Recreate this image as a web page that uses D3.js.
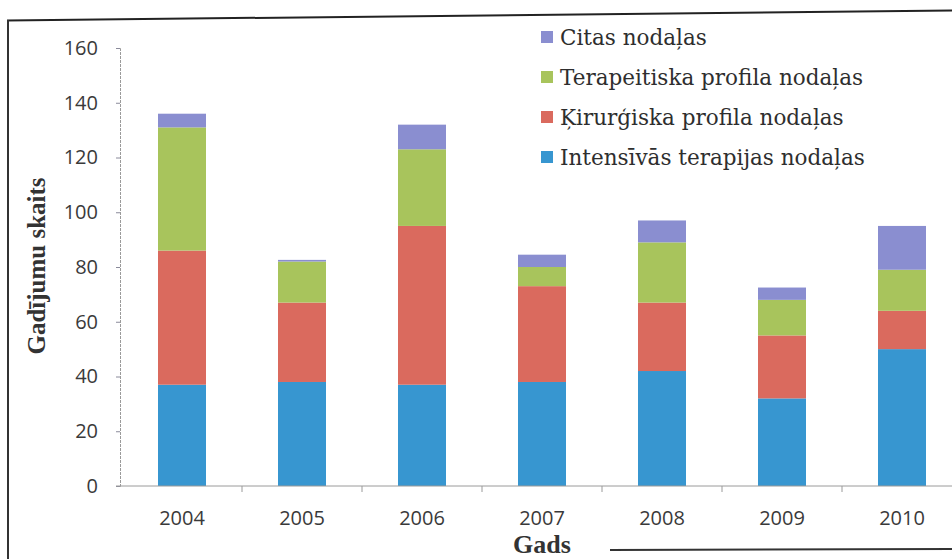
<!DOCTYPE html>
<html>
<head>
<meta charset="utf-8">
<script src="https://cdn.jsdelivr.net/npm/d3@7"></script>
<style>
  html, body { margin: 0; padding: 0; background: #fff; }
  svg { display: block; }
</style>
</head>
<body>
<svg id="chart" width="952" height="559"></svg>
<script>
// ---- data ----
const years = ["2004", "2005", "2006", "2007", "2008", "2009", "2010"];
const intensive = [37, 38, 37, 38, 42, 32, 50];   // Intensīvās terapijas nodaļas
const surgical  = [49, 29, 58, 35, 25, 23, 14];   // Ķirurģiska profila nodaļas
const therapy   = [45, 15, 28, 7, 22, 13, 15];    // Terapeitiska profila nodaļas
const other     = [5, 0.6, 9, 4.5, 8, 4.5, 16];   // Citas nodaļas
const seriesNames = ["Intensīvās terapijas nodaļas", "Ķirurģiska profila nodaļas",
                     "Terapeitiska profila nodaļas", "Citas nodaļas"];
const yTicks = [0, 20, 40, 60, 80, 100, 120, 140, 160];
const colors = ["#3796d0", "#da6a5e", "#a8c45c", "#8a8ed0"];

const svg = d3.select("#chart");

// scanned-page frame lines
svg.append("line").attr("x1", 7).attr("y1", 20.5).attr("x2", 952).attr("y2", 10.5)
  .attr("stroke", "#222").attr("stroke-width", 2);
svg.append("line").attr("x1", 8).attr("y1", 20).attr("x2", 8).attr("y2", 559)
  .attr("stroke", "#333").attr("stroke-width", 2);
svg.append("line").attr("x1", 610).attr("y1", 550).attr("x2", 952).attr("y2", 549)
  .attr("stroke", "#333").attr("stroke-width", 2);

const keys = ["intensive", "surgical", "therapy", "other"];
const table = years.map((y, i) => ({
  year: y, intensive: intensive[i], surgical: surgical[i], therapy: therapy[i], other: other[i]
}));
const stacked = d3.stack().keys(keys)(table);

const x = d3.scaleBand().domain(years).range([122, 962]).paddingInner(0.6).paddingOuter(0.3);
const y = d3.scaleLinear().domain([0, 160]).range([486, 48]);

// bars
svg.append("g").selectAll("g").data(stacked).join("g")
  .attr("fill", (d, i) => colors[i])
  .selectAll("rect").data(d => d).join("rect")
  .attr("x", d => x(d.data.year))
  .attr("width", x.bandwidth())
  .attr("y", d => y(d[1]))
  .attr("height", d => y(d[0]) - y(d[1]));

// y axis
const yAxis = svg.append("g").attr("transform", "translate(120,0)")
  .call(d3.axisLeft(y).tickValues(yTicks).tickSize(4).tickPadding(18));
yAxis.select(".domain").attr("stroke", "#9a9a9a").attr("stroke-dasharray", "3,1");
yAxis.selectAll(".tick line").attr("stroke", "#8a8a9a");
yAxis.selectAll("text").attr("font-family", "'Open Sans', sans-serif")
  .attr("font-size", 20).attr("fill", "#3a3a3a");

// x axis
const xAxis = svg.append("g").attr("transform", "translate(0,486)")
  .call(d3.axisBottom(x).tickSize(0).tickPadding(25));
xAxis.select(".domain").remove();
xAxis.selectAll("text").attr("font-family", "'Open Sans', sans-serif")
  .attr("font-size", 20).attr("fill", "#3a3a3a");
svg.append("line").attr("x1", 116).attr("x2", 952).attr("y1", 486).attr("y2", 486)
  .attr("stroke", "#9a9a9a");
// category separators
svg.append("g").selectAll("line").data(years.slice(0, -1)).join("line")
  .attr("x1", d => x(d) + x.bandwidth() / 2 + x.step() / 2)
  .attr("x2", d => x(d) + x.bandwidth() / 2 + x.step() / 2)
  .attr("y1", 486).attr("y2", 492).attr("stroke", "#9a9a9a");

// axis titles
svg.append("text").attr("transform", "translate(45,266) rotate(-90)")
  .attr("text-anchor", "middle").attr("font-family", "'Liberation Serif', serif")
  .attr("font-weight", "bold").attr("font-size", 25).attr("fill", "#333")
  .text("Gadījumu skaits");
svg.append("text").attr("x", 542).attr("y", 553)
  .attr("text-anchor", "middle").attr("font-family", "'Liberation Serif', serif")
  .attr("font-weight", "bold").attr("font-size", 26).attr("fill", "#333")
  .text("Gads");

// legend (top to bottom: reverse stack order)
const legendOrder = [3, 2, 1, 0];
const lg = svg.append("g").selectAll("g").data(legendOrder).join("g")
  .attr("transform", (d, i) => `translate(541,${37 + i * 40})`);
lg.append("rect").attr("x", 0).attr("y", -6).attr("width", 12).attr("height", 12)
  .attr("fill", d => colors[d]);
lg.append("text").attr("x", 19).attr("y", 0).attr("dy", "0.36em")
  .attr("font-family", "'DejaVu Serif', serif").attr("font-size", 21.5)
  .attr("fill", "#2e2e2e").text(d => seriesNames[d]);
</script>
</body>
</html>
